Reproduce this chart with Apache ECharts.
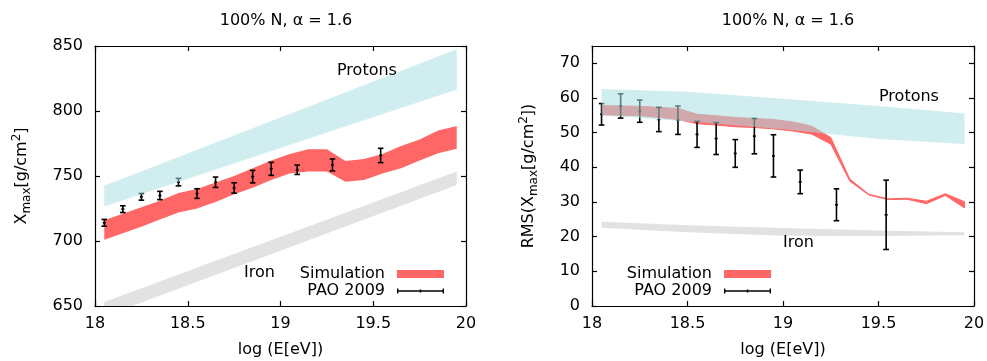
<!DOCTYPE html>
<html>
<head>
<meta charset="utf-8">
<script src="https://cdn.jsdelivr.net/npm/echarts@6/dist/echarts.min.js"></script>
<style>
  html, body { margin: 0; padding: 0; background: #fff; }
  #chart { width: 987px; height: 361px; }
</style>
</head>
<body>
<div id="chart"></div>
<script>
// ---------- data ----------
const titleText = "100% N, α = 1.6";
const xTicks = [18, 20, 0.5];

// simulation band (both panels share energies)
const simEnergy = [18.05, 18.15, 18.25, 18.35, 18.45, 18.55, 18.65, 18.75, 18.85, 18.95,
                   19.05, 19.15, 19.25, 19.35, 19.45, 19.55, 19.65, 19.75, 19.85, 19.95];
const simXmaxLow  = [701, 706, 711, 716.5, 722, 725, 730, 736, 741, 747,
                     752, 753.5, 753.5, 745.5, 747, 752, 756, 762, 767.5, 771];
const simXmaxHigh = [716, 721, 726, 731, 737, 740, 745, 750, 756, 762,
                     767, 770.5, 770.5, 761.5, 763, 767, 773, 778, 785, 788.5];
const simRmsLow   = [55.2, 55.0, 54.9, 54.4, 53.8, 52.6, 52.2, 51.7, 51.5, 51.1,
                     50.5, 49.6, 46.7, 36.0, 32.0, 30.7, 30.8, 29.5, 31.9, 28.3];
const simRmsHigh  = [57.8, 57.7, 57.6, 57.3, 57.0, 55.3, 54.9, 54.4, 54.1, 53.8,
                     53.1, 51.9, 48.6, 36.6, 32.2, 30.9, 31.1, 30.2, 32.4, 30.1];

// proton / iron reference bands
const refXmaxEnergy = [18.05, 19.95];
const protonXmaxLow = [726.5, 816.5];
const protonXmaxHigh = [742.5, 847.5];
const ironXmaxLow = [642, 743];
const ironXmaxHigh = [653, 753.5];

const refRmsEnergy = [18.05, 18.5, 19.0, 19.5, 19.95];
const protonRmsLow = [55.0, 53.2, 51.0, 48.2, 46.7];
const protonRmsHigh = [62.6, 61.8, 59.8, 57.7, 55.5];
const ironRmsLow = [22.6, 21.3, 20.3, 20.2, 20.4];
const ironRmsHigh = [24.3, 23.3, 22.5, 21.8, 21.3];

// PAO 2009 measurements
const paoEnergy = [18.05, 18.15, 18.25, 18.35, 18.45, 18.55, 18.65, 18.75, 18.85, 18.95, 19.09, 19.28, 19.54];
const paoXmax    = [714, 724.5, 734, 735, 745.3, 736.5, 745.2, 740.8, 749.5, 755.5, 754.8, 758.5, 765.8];
const paoXmaxErr = [2.6, 2.6, 2.6, 3.2, 2.9, 3.7, 4.0, 4.0, 4.8, 5.0, 3.6, 4.6, 5.5];
const paoRms     = [55.3, 57.7, 56.2, 53.8, 53.6, 49.5, 48.3, 44.0, 49.0, 43.3, 35.8, 29.2, 26.3];
const paoRmsErr  = [3.1, 3.5, 3.2, 3.5, 4.1, 3.75, 4.6, 4.0, 5.1, 6.1, 3.4, 4.6, 10.0];

// ---------- styling ----------
const FONT = "DejaVu Sans";
const RED = "#ff6666";
const CYAN = "rgba(170,222,227,0.55)";
const GREY = "#e2e2e2";

const chart = echarts.init(document.getElementById("chart"));

function band(name, xs, lows, highs, fill, axis, z, stroke) {
  const rows = xs.map((x, i) => [x, lows[i], highs[i]]);
  return {
    name: name,
    type: "custom",
    xAxisIndex: axis,
    yAxisIndex: axis,
    z: z,
    clip: true,
    silent: true,
    data: rows,
    encode: { x: 0, y: [1, 2] },
    renderItem: function (params, api) {
      if (params.dataIndex !== 0) return null;
      const upper = rows.map(r => api.coord([r[0], r[2]]));
      const lower = rows.map(r => api.coord([r[0], r[1]])).reverse();
      return {
        type: "polygon",
        shape: { points: upper.concat(lower) },
        style: { fill: fill, stroke: stroke || null, lineWidth: stroke ? 1 : 0 }
      };
    }
  };
}

function errorBars(xs, ys, errs, axis) {
  return {
    name: "PAO 2009",
    type: "custom",
    xAxisIndex: axis,
    yAxisIndex: axis,
    z: 3,
    silent: true,
    itemStyle: { color: "#000" },
    data: xs.map((x, i) => [x, ys[i], errs[i]]),
    encode: { x: 0, y: 1 },
    renderItem: function (params, api) {
      const x = api.value(0), y = api.value(1), e = api.value(2);
      const top = api.coord([x, y + e]);
      const bot = api.coord([x, y - e]);
      const mid = api.coord([x, y]);
      const st = { stroke: "#000", lineWidth: 1.6 };
      const w = 2.8;
      return {
        type: "group",
        children: [
          { type: "line", shape: { x1: top[0], y1: top[1], x2: bot[0], y2: bot[1] }, style: st },
          { type: "line", shape: { x1: top[0] - w, y1: top[1], x2: top[0] + w, y2: top[1] }, style: st },
          { type: "line", shape: { x1: bot[0] - w, y1: bot[1], x2: bot[0] + w, y2: bot[1] }, style: st },
          { type: "line", shape: { x1: mid[0] - 1.5, y1: mid[1], x2: mid[0] + 1.5, y2: mid[1] }, style: st }
        ]
      };
    }
  };
}

const labelStyle = { fontFamily: FONT, fontSize: 16, color: "#000" };
const lineBlack = { color: "#000", width: 1.2 };

function xAxes(grid) {
  const base = {
    type: "value", gridIndex: grid, min: xTicks[0], max: xTicks[1], interval: xTicks[2],
    axisLine: { onZero: false, lineStyle: lineBlack },
    axisTick: { inside: true, length: 5, lineStyle: lineBlack },
    splitLine: { show: false }
  };
  return [
    Object.assign({}, base, {
      position: "bottom",
      axisLabel: Object.assign({ margin: 10 }, labelStyle),
      name: "log (E[eV])", nameLocation: "middle", nameGap: 36,
      nameTextStyle: labelStyle
    }),
    Object.assign({}, base, { position: "top", axisLabel: { show: false } })
  ];
}

function yAxes(grid, min, max, interval, richName, nameGap) {
  const base = {
    type: "value", gridIndex: grid, min: min, max: max, interval: interval,
    axisLine: { onZero: false, lineStyle: lineBlack },
    axisTick: { inside: true, length: 5, lineStyle: lineBlack },
    splitLine: { show: false }
  };
  return [
    Object.assign({}, base, {
      position: "left",
      axisLabel: Object.assign({ margin: 12, showMaxLabel: max % interval === 0 }, labelStyle),
      name: richName, nameLocation: "middle", nameGap: nameGap,
      nameTextStyle: {
        rich: {
          n: { fontFamily: FONT, fontSize: 16, color: "#000", lineHeight: 22 },
          s: { fontFamily: FONT, fontSize: 12, color: "#000", lineHeight: 12, verticalAlign: "bottom" },
          p: { fontFamily: FONT, fontSize: 12, color: "#000", lineHeight: 12, verticalAlign: "top" }
        }
      }
    }),
    Object.assign({}, base, { position: "right", axisLabel: { show: false } })
  ];
}

const paoIcon = "path://M0,0M48,8M0,1.5h1.4v5h-1.4zM0,3.3h48v1.4h-48zM46.6,1.5h1.4v5h-1.4zM23.3,2.5h1.4v3h-1.4z";

function legendAt(right) {
  return {
    right: right, top: 266, padding: 0, orient: "vertical", align: "right",
    itemWidth: 47, itemHeight: 8, itemGap: 1, selectedMode: false,
    textStyle: Object.assign({ padding: [0, 7, 0, 0] }, labelStyle),
    data: [
      { name: "Simulation", icon: "rect", itemStyle: { color: RED } },
      { name: "PAO 2009", icon: paoIcon, itemStyle: { color: "#000" } }
    ]
  };
}

function note(text, x, y) {
  return {
    type: "text", x: x, y: y, z: 10,
    style: { text: text, fontFamily: FONT, fontSize: 16, fill: "#000", verticalAlign: "middle" }
  };
}

chart.setOption({
  animation: false,
  backgroundColor: "#fff",
  title: [
    { text: titleText, left: 281, top: 8, textAlign: "center",
      textStyle: { fontFamily: FONT, fontSize: 16, fontWeight: "normal", color: "#000" } },
    { text: titleText, left: 783, top: 8, textAlign: "center",
      textStyle: { fontFamily: FONT, fontSize: 16, fontWeight: "normal", color: "#000" } }
  ],
  grid: [
    { left: 95, right: 521, top: 46, bottom: 55, outerBoundsMode: "none" },
    { left: 592, right: 13, top: 46, bottom: 55, outerBoundsMode: "none" }
  ],
  xAxis: xAxes(0).concat(xAxes(1)),
  yAxis: yAxes(0, 650, 850, 50, "{n|X}{s|max}{n|[g/cm}{p|2}{n|]}", 62)
    .concat(yAxes(1, 0, 75, 10, "{n|RMS(X}{s|max}{n|[g/cm}{p|2}{n|])}", 52)),
  legend: [legendAt(543), legendAt(216)],
  graphic: [
    note("Protons", 337, 71),
    note("Iron", 244, 273),
    note("Protons", 879, 97),
    note("Iron", 783, 243)
  ],
  series: [
    band("Iron", refXmaxEnergy, ironXmaxLow, ironXmaxHigh, GREY, 0, 1),
    band("Simulation", simEnergy, simXmaxLow, simXmaxHigh, RED, 0, 2),
    errorBars(paoEnergy, paoXmax, paoXmaxErr, 0),
    band("Protons", refXmaxEnergy, protonXmaxLow, protonXmaxHigh, CYAN, 0, 4),

    band("Iron", refRmsEnergy, ironRmsLow, ironRmsHigh, GREY, 2, 1),
    band("Simulation", simEnergy, simRmsLow, simRmsHigh, RED, 2, 2, RED),
    errorBars(paoEnergy, paoRms, paoRmsErr, 2),
    band("Protons", refRmsEnergy, protonRmsLow, protonRmsHigh, CYAN, 2, 4)
  ]
});
</script>
</body>
</html>
